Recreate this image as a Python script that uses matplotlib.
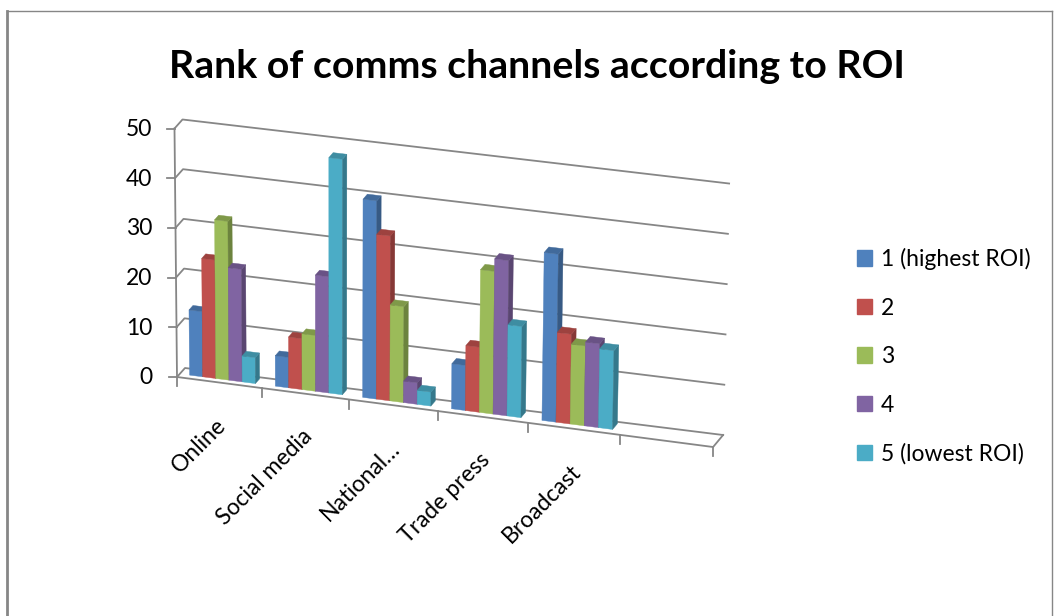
import numpy as np
import matplotlib
matplotlib.use("Agg")
import matplotlib.pyplot as plt
from matplotlib.patches import Polygon, Patch

plt.rcParams["font.family"] = ["Lato", "DejaVu Sans"]

CHANNELS = ["Online", "Social media", "National…", "Trade press", "Broadcast"]
SERIES = ["1 (highest ROI)", "2", "3", "4", "5 (lowest ROI)"]
RANK_1 = [13.1, 6.1, 39.7, 9.0, 33.5]
RANK_2 = [23.8, 10.2, 33.0, 13.0, 17.9]
RANK_3 = [31.9, 11.2, 19.2, 28.5, 15.9]
RANK_4 = [22.6, 23.3, 4.3, 31.0, 16.7]
RANK_5 = [5.2, 47.2, 2.8, 18.2, 15.7]
VALUE_TICKS = [0, 10, 20, 30, 40, 50]

COLORS = ["#4f81bd", "#c0504d", "#9bbb59", "#8064a2", "#4bacc6"]
GRID = "#868686"
LABEL_SIZE = 16.5

# the category axis has one trailing empty slot
N_SLOTS = 6
GAP = 1.5            # gap width between clusters, in bar widths
BAR_FRONT, BAR_BACK = 0.35, 0.85   # bar depth inside the floor (0 = front, 1 = back wall)

# oblique 3-D view, in figure pixels
ORIGIN = (177.0, 377.0)
SLOT_A, SLOT_B = 84.67, 0.78       # slot spacing widens slightly to the right
FLOOR_SLOPE = 0.1306
DEPTH_L, DEPTH_R = (8.0, -9.0), (10.0, -12.0)
VSCALE_L, VSCALE_R = 4.97, 5.03
LEAN_L, LEAN_R = -0.05, 0.12


def project(u, d, v):
    u, d, v = np.broadcast_arrays(np.asarray(u, float), np.asarray(d, float),
                                  np.asarray(v, float))
    t = u / N_SLOTS
    fx = ORIGIN[0] + SLOT_A * u + SLOT_B * u ** 2
    fy = ORIGIN[1] + FLOOR_SLOPE * (fx - ORIGIN[0])
    dx = DEPTH_L[0] + (DEPTH_R[0] - DEPTH_L[0]) * t
    dy = DEPTH_L[1] + (DEPTH_R[1] - DEPTH_L[1]) * t
    scale = VSCALE_L + (VSCALE_R - VSCALE_L) * t
    lean = LEAN_L + (LEAN_R - LEAN_L) * t
    return fx + d * dx + v * lean, fy + d * dy - v * scale


def shade(color, f):
    r, g, b = matplotlib.colors.to_rgb(color)
    return (r * f, g * f, b * f)


def face(ax, pts, color, z):
    xs, ys = project(*np.array(pts).T)
    ax.add_patch(Polygon(np.column_stack([xs, ys]), closed=True, facecolor=color,
                         edgecolor=color, linewidth=0.3, zorder=z))


fig = plt.figure(figsize=(10.57, 6.16), dpi=100)
ax = fig.add_axes([0, 0, 1, 1])
ax.set_xlim(0, 1057)
ax.set_ylim(616, 0)
ax.axis("off")

# chart area border
ax.plot([7, 1052], [11, 11], color=GRID, lw=1.0)
ax.plot([7, 7], [11, 616], color=GRID, lw=2.0)
ax.plot([1052, 1052], [11, 616], color=GRID, lw=1.0)

ax.text(537, 78, "Rank of comms channels according to ROI", ha="center",
        va="baseline", fontsize=28.3, fontweight="bold", color="black")

# gridlines: short side-wall segment, then across the back wall
for v in VALUE_TICKS:
    xs, ys = project([0, 0, N_SLOTS], [0, 1, 1], v)
    ax.plot(xs, ys, color=GRID, lw=1.3, zorder=1)
    ax.plot([xs[0] - 8, xs[0]], [ys[0], ys[0]], color=GRID, lw=1.3, zorder=1)
    ax.text(152, ys[0] + 1, str(v), ha="right", va="center", fontsize=LABEL_SIZE)

# value axis and floor edges
xs, ys = project(0, 0, [0, VALUE_TICKS[-1]])
ax.plot(xs, ys, color=GRID, lw=1.3, zorder=1)
xs, ys = project([0, N_SLOTS, N_SLOTS], [0, 0, 1], 0)
ax.plot(xs, ys, color=GRID, lw=1.3, zorder=1)
for u in range(N_SLOTS + 1):
    tx, ty = project(u, 0, 0)
    ax.plot([tx, tx], [ty, ty + 9], color=GRID, lw=1.3, zorder=1)

# bars, left to right so each bar hides its neighbour's side face
ranks = [RANK_1, RANK_2, RANK_3, RANK_4, RANK_5]
w = 1.0 / (len(SERIES) + GAP)
z = 2
for c in range(len(CHANNELS)):
    for s, vals in enumerate(ranks):
        v = vals[c]
        u0 = c + (GAP / 2 + s) * w
        u1 = u0 + w
        col = COLORS[s]
        face(ax, [(u0, BAR_FRONT, 0), (u1, BAR_FRONT, 0), (u1, BAR_FRONT, v),
                  (u0, BAR_FRONT, v)], col, z)
        face(ax, [(u1, BAR_FRONT, 0), (u1, BAR_BACK, 0), (u1, BAR_BACK, v),
                  (u1, BAR_FRONT, v)], shade(col, 0.7), z)
        face(ax, [(u0, BAR_FRONT, v), (u1, BAR_FRONT, v), (u1, BAR_BACK, v),
                  (u0, BAR_BACK, v)], shade(col, 0.82), z)
        z += 1

# category labels at -45 degrees, ending under each slot centre
for c, name in enumerate(CHANNELS):
    lx, ly = project(c + 0.5, 0, 0)
    ax.text(lx - 4, ly + 32, name, rotation=45, rotation_mode="anchor",
            ha="right", va="top", fontsize=LABEL_SIZE)

handles = [Patch(facecolor=col, edgecolor=col) for col in COLORS]
fig.legend(handles, SERIES, loc="upper left", bbox_to_anchor=(857 / 1057, 1 - 248 / 616),
           frameon=False, fontsize=LABEL_SIZE, handlelength=0.65, handleheight=0.65,
           handletextpad=0.4, labelspacing=1.2, borderpad=0, borderaxespad=0)

fig.savefig("out.png", dpi=100, facecolor="white")
